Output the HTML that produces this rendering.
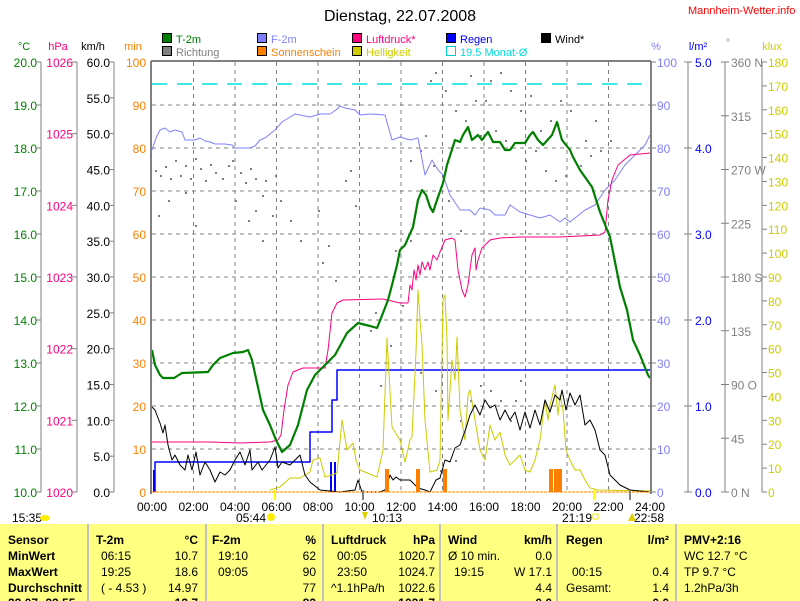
<!DOCTYPE html>
<html><head><meta charset="utf-8"><style>
html,body{margin:0;padding:0;background:#fff;width:800px;height:601px;overflow:hidden}
svg{display:block;font-family:"Liberation Sans",sans-serif}
</style></head><body>
<svg id="s" width="800" height="601" viewBox="0 0 800 601" xmlns="http://www.w3.org/2000/svg"></svg>
<script>
var o=[];
function t(x,y,s,c,sz,anc,w){o.push('<text x="'+x+'" y="'+y+'" fill="'+c+'" font-size="'+(sz||12)+'"'+(anc?' text-anchor="'+anc+'"':'')+(w?' font-weight="bold"':'')+'>'+s+'</text>');}
function l(x1,y1,x2,y2,c,w,d){o.push('<line x1="'+x1+'" y1="'+y1+'" x2="'+x2+'" y2="'+y2+'" stroke="'+c+'" stroke-width="'+(w||1)+'"'+(d?' stroke-dasharray="'+d+'"':'')+'/>');}
function p(pts,c,w){o.push('<polyline fill="none" stroke="'+c+'" stroke-width="'+(w||1)+'" stroke-linejoin="round" points="'+pts+'"/>');}
function r(x,y,w,h,c,st){o.push('<rect x="'+x+'" y="'+y+'" width="'+w+'" height="'+h+'" fill="'+c+'"'+(st?' stroke="'+st+'"':'')+'/>');}
var T=62,B=492,L=152,R=650;
t(400,21,'Dienstag, 22.07.2008','#000',16,'middle');
t(688,14,'Mannheim-Wetter.info','#ff0000',11);
var lg=[[162,'T-2m','#008000',0],[162,'Richtung','#808080',1],[257,'F-2m','#8080ff',0],[257,'Sonnenschein','#ff8000',1],[352,'Luftdruck*','#ff0080',0],[352,'Helligkeit','#cccc00',1],[446,'Regen','#0000ff',0],[541,'Wind*','#000',0]];
lg.forEach(function(a){var y=a[3]?46:33;r(a[0]+0.5,y+0.5,9,9,a[2],'#000');t(a[0]+14,y+10,a[1],a[2],11);});
r(446.5,46.5,9,9,'none','#00cccc');t(460,56,'19.5 Monat-Ø','#00dddd',11);
t(24,50,'°C','#008000',11,'middle');t(58,50,'hPa','#ff0080',11,'middle');t(93,50,'km/h','#000',11,'middle');t(133,50,'min','#ff8000',11,'middle');
t(656,50,'%','#8080ff',11,'middle');t(698,50,'l/m²','#0000ff',11,'middle');t(728,46,'°','#808080',10,'middle');t(772,50,'klux','#cccc00',11,'middle');
for(var i=1;i<12;i++){var x=L+i*41.5;l(x,T,x,B,'#808080',1,'4,4');}
for(var j=1;j<10;j++){var y=T+j*43;l(L,y,R,y,'#808080',1,'4,4');}
[41,77,114].forEach(function(x){l(x,T,x,B,'#808080',1);});
l(688,T,688,B,'#808080',1);l(725,T,725,B,'#808080',1);l(762,T,762,B,'#808080',1);
for(var k=0;k<=10;k++){var y=T+k*43;t(37,y+5,(20-k).toFixed(1),'#008000',12,'end');l(36,y,41,y,'#808080');
 var yy=B-k*43;t(146,yy+5,(k*10)+'','#ff8000',12,'end');}
for(var k=0;k<=6;k++){var y=T+k*430/6;t(73,y+5,(1026-k)+'','#ff0080',12,'end');l(72,y,77,y,'#808080');}
for(var k=0;k<=12;k++){var y=T+k*430/12;t(110,y+5,(60-k*5).toFixed(1),'#000',12,'end');l(109,y,114,y,'#808080');}
for(var k=0;k<=10;k++){var y=T+k*43;t(657,y+5,(100-k*10)+'','#8080ff',12);l(650,y,656,y,'#808080');}
for(var k=0;k<=5;k++){var y=T+k*86;t(695,y+5,(5-k).toFixed(1),'#0000ff',12);l(684,y,692,y,'#808080');}
var dg=['360 N','315','270 W','225','180 S','135','90 O','45','0 N'];
for(var k=0;k<=8;k++){var y=T+k*53.75;t(731,y+5,dg[k],'#808080',12);l(721,y,729,y,'#808080');}
for(var k=0;k<=18;k++){var y=T+k*430/18;t(768,y+5,(180-k*10)+'','#cccc00',12);l(762,y,767,y,'#808080');}
l(L,84,R,84,'#00e0e0',1.5,'15,10');
var dots=[[155,170],[160,175],[165,166],[170,178],[175,160],[180,175],[185,165],[190,178],[195,158],[200,168],[205,180],[210,164],[215,172],[222,178],[228,165],[232,160],[240,172],[245,182],[250,168],[255,178],[262,195],[265,180],[272,215],[275,175],[280,200],[255,210],[248,220],[185,192],[168,200],[158,215],[195,225],[235,200],[262,240],[290,220],[300,240],[318,210],[322,262],[328,245],[345,180],[350,170],[355,205],[335,280],[370,330],[375,312],[380,385],[390,345],[395,250],[402,305],[410,240],[420,372],[435,390],[440,470],[455,460],[460,420],[470,400],[480,385],[490,390],[500,400],[510,420],[515,400],[520,380],[490,80],[500,72],[510,90],[520,110],[530,95],[485,100],[470,75],[455,110],[445,90],[435,72],[430,80],[495,130],[505,140],[525,160],[535,150],[545,170],[555,180],[565,175],[580,165],[590,155],[595,120],[585,140],[540,130],[550,120],[560,100],[570,110],[480,135],[465,120],[410,160],[420,150],[425,135],[433,165],[448,200],[460,230],[475,100],[600,150],[610,140]];
dots.forEach(function(d){r(d[0],d[1],2,2,'#808080');});
p('152,150 156,138 160,130 165,128 170,132 175,130 182,132 185,140 195,140 200,138 205,141 210,142 215,144 225,144 232,145 235,148 250,148 255,146 260,140 265,138 275,130 282,122 295,114 310,117 320,114 330,114 336,110 340,106 345,108 355,110 360,115 370,114 385,115 392,140 400,137 410,140 418,138 425,175 432,160 438,170 443,175 450,195 460,210 470,210 475,215 480,208 490,210 495,215 505,215 510,205 520,212 530,215 540,218 550,215 560,222 565,218 570,222 585,210 595,205 605,190 615,180 625,165 635,155 645,145 650,135','#8080ff',1);
p('152,442 210,442 240,443 270,442 278,440 281,435 284,410 288,385 293,372 303,368 325,368 328,350 332,313 337,303 343,300 383,299 400,303 408,303 410,285 412,290 414,270 416,280 418,265 420,275 422,262 425,270 428,262 430,270 433,255 437,260 440,252 445,240 452,238 455,240 458,270 462,290 465,297 468,285 472,255 475,248 476,270 478,260 482,248 490,240 500,238 520,237 560,237 600,235 605,232 608,200 612,180 618,165 630,155 650,153','#ff0080',1);
p('155,492 155,462 310,462 310,432 332,432 332,400 337,400 337,370 650,370','#0000ff',1.5);
r(153,470,2,22,'#0000ff');r(330,462,2,30,'#0000ff');r(334,462,2,30,'#0000ff');
p('270,490 280,487 290,478 300,478 310,472 313,460 320,458 325,477 337,473 342,420 347,450 353,443 356,460 360,470 377,477 383,450 387,338 392,427 400,440 405,462 410,440 412,437 416,352 418,290 420,320 422,345 425,420 430,472 437,470 440,460 443,300 445,295 447,340 448,420 450,390 452,360 455,380 457,337 460,410 465,440 468,395 470,390 475,420 480,450 485,460 490,425 495,440 500,432 505,455 510,465 515,460 520,455 525,470 530,472 535,460 540,440 545,400 548,420 550,405 555,385 558,415 560,395 563,410 566,450 570,460 575,470 580,470 585,480 590,488 598,490 650,491','#cccc00',1);
p('152,407 155,410 158,418 160,423 163,433 165,425 168,445 172,460 175,455 180,465 185,470 188,455 192,470 196,452 200,475 205,462 210,470 215,482 220,472 225,475 230,470 235,460 240,452 245,465 250,450 252,470 258,462 262,470 270,460 275,447 278,468 282,462 290,465 295,460 300,455 305,475 310,482 315,486 320,490 340,492 355,490 358,480 362,492 380,492 385,490 390,475 393,480 396,477 400,480 410,480 418,488 425,490 430,492 436,480 440,478 445,460 450,462 455,448 460,445 466,428 470,415 475,405 480,415 485,400 490,408 495,405 500,420 505,410 510,420 515,412 520,430 525,412 530,428 535,410 540,425 545,400 550,412 555,395 560,400 562,390 566,410 570,393 575,405 580,395 585,425 590,420 595,430 600,450 605,455 610,475 620,485 630,490 650,492','#000',1);
p('152,350 155,365 160,375 163,378 174,378 182,373 208,372 213,365 220,358 233,353 243,352 248,350 252,360 263,410 270,425 276,440 282,452 290,445 298,425 307,390 315,375 327,363 335,355 347,333 358,323 370,326 377,328 383,313 388,300 392,285 397,265 400,250 405,245 413,227 418,200 422,190 426,195 430,207 433,212 437,200 443,183 447,165 455,140 460,142 463,135 468,127 472,140 478,135 482,140 488,132 493,142 500,142 505,150 510,150 515,143 525,143 530,135 533,132 538,140 543,145 552,135 557,122 562,140 570,150 573,157 580,170 592,187 600,212 610,237 615,262 620,287 627,310 633,340 640,355 648,375 650,378','#008000',2.2);
[[385,4],[416,4],[443,4],[549,4],[554,4],[558,4]].forEach(function(b){r(b[0],469,b[1],23,'#ff8000');});
l(L,492,R,492,'#ff8000',1,'3,1');
l(151,61,651,61,'#808080',2);l(151,61,151,494,'#808080',2);l(651,61,651,494,'#808080',2);
l(275,490,275,500,'#ffff00',2);l(594,490,594,500,'#ffff00',2);l(630,490,630,500,'#808080',2);l(363,490,363,500,'#808080',2);
for(var h=0;h<=24;h+=2){t(L+h*20.75,511,(h<10?'0':'')+h+':00','#000',12,'middle');}
t(12,522,'15:35','#000',12);o.push('<ellipse cx="45" cy="518" rx="5" ry="3" fill="#ffee00"/>');
t(236,522,'05:44','#000',12);o.push('<circle cx="271" cy="517" r="4" fill="#ffee00"/>');
t(372,522,'10:13','#000',12);o.push('<path d="M362,512 L368,512 L365,520 Z" fill="#e0d000"/>');
t(562,522,'21:19','#000',12);r(593,514,5,5,'none','#eeee00');
t(634,522,'22:58','#000',12);o.push('<path d="M628,521 L632,513 L636,521 Z" fill="#e0d000"/>');
r(0,524,800,77,'#ffff80');
[88,206,323,440,557,676].forEach(function(x){l(x,524,x,601,'#c0c0c0',2);});
var ry=[544,560,576,592];
var F=12;
t(8,ry[0],'Sensor','#000',F,null,1);t(8,ry[1],'MinWert','#000',F,null,1);t(8,ry[2],'MaxWert','#000',F,null,1);t(8,ry[3],'Durchschnitt','#000',F,null,1);t(8,607,'22.07.-22.55','#000',F,null,1);
function col(x,xr,h,u,rows){t(x,ry[0],h,'#000',F,null,1);t(xr,ry[0],u,'#000',F,'end',1);rows.forEach(function(rw,i){if(rw[0])t(x+rw[2],ry[i+1],rw[0],'#000',F);if(rw[1])t(xr,ry[i+1],rw[1],'#000',F,'end');});}
col(96,198,'T-2m','°C',[['06:15','10.7',5],['19:25','18.6',5],['( - 4.53 )','14.97',5]]);
col(212,316,'F-2m','%',[['19:10','62',6],['09:05','90',6],['','77',0]]);
col(331,435,'Luftdruck','hPa',[['00:05','1020.7',6],['23:50','1024.7',6],['^1.1hPa/h','1022.6',0]]);
col(448,552,'Wind','km/h',[['Ø 10 min.','0.0',0],['19:15','W 17.1',6],['','4.4',0]]);
col(566,669,'Regen','l/m²',[['','',0],['00:15','0.4',6],['Gesamt:','1.4',0]]);
t(684,ry[0],'PMV+2:16','#000',F,null,1);t(684,ry[1],'WC 12.7 °C','#000',F);t(684,ry[2],'TP 9.7 °C','#000',F);t(684,ry[3],'1.2hPa/3h','#000',F);
t(198,607,'13.7','#000',F,'end',1);t(316,607,'83','#000',F,'end',1);t(435,607,'1021.7','#000',F,'end',1);t(552,607,'0.0','#000',F,'end',1);t(669,607,'0.0','#000',F,'end',1);
document.getElementById('s').innerHTML=o.join('');
</script>
</body></html>
